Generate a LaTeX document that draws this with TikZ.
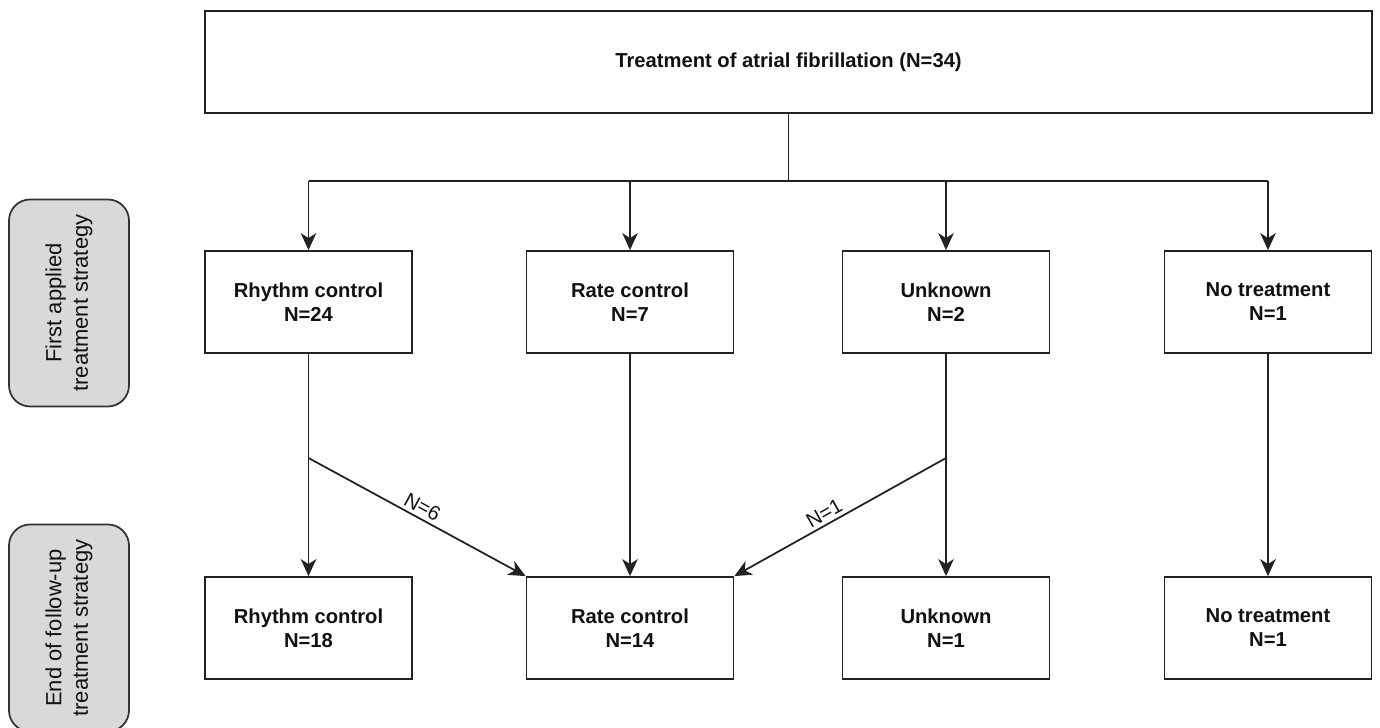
\documentclass[tikz,border=0pt]{standalone}
\usepackage{fontspec}
\setmainfont{Liberation Sans}
\usetikzlibrary{positioning,arrows.meta,calc}
\definecolor{inkText}{HTML}{111111}
\definecolor{lineStroke}{HTML}{222222}
\definecolor{sideFill}{HTML}{D9D9D9}
\definecolor{sideStroke}{HTML}{333333}

\begin{document}
\begin{tikzpicture}[
  every node/.style={text=inkText},
  box/.style={draw=lineStroke, line width=1pt, align=center, fill=white,
              minimum width=4.14cm, minimum height=2.04cm, inner sep=4pt,
              font=\fontsize{11.5}{13.6}\selectfont\bfseries},
  topbox/.style={box, minimum width=23.34cm},
  side/.style={draw=sideStroke, line width=1pt, fill=sideFill, rounded corners=12pt,
               align=center, rotate=90, minimum width=4.14cm, minimum height=2.4cm,
               font=\fontsize{12.5}{15}\selectfont},
  link/.style={line width=1pt, draw=lineStroke},
  flow/.style={link, -{Stealth[length=3.4mm,width=3.1mm,inset=1mm]}},
  lbl/.style={font=\fontsize{11.5}{13.6}\selectfont, inner sep=2pt},
]
\useasboundingbox (0,0) rectangle (27.6,14.56);

% ---------------- SIDE LABELS ----------------
\node[side] (FIRST) at (1.38,8.5) {First applied\\treatment strategy};
\node[side] (END) at (1.38,2.0) {End of follow-up\\treatment strategy};

% ---------------- NODES (absolute grid) ----------------
\node[topbox] (TOP) at (15.77,13.32) {Treatment of atrial fibrillation (N=34)};

\node[box] (RC1) at (6.17,8.52) {Rhythm control\\N=24};
\node[box] (RT1) at (12.6,8.52) {Rate control\\N=7};
\node[box] (UN1) at (18.92,8.52) {Unknown\\N=2};
\node[box] (NT1) at (25.36,8.52) {No treatment\\N=1};

\node[box] (RC2) at (6.17,2.0) {Rhythm control\\N=18};
\node[box] (RT2) at (12.6,2.0) {Rate control\\N=14};
\node[box] (UN2) at (18.92,2.0) {Unknown\\N=1};
\node[box] (NT2) at (25.36,2.0) {No treatment\\N=1};

\coordinate (split) at (15.77,10.94);
\coordinate (rcFork) at (6.17,5.4);
\coordinate (unFork) at (18.92,5.4);

% ---------------- EDGES ----------------
\draw[link] (TOP) -- (split);
\draw[link] (RC1.north |- split) -- (NT1.north |- split);
\foreach \n in {RC1,RT1,UN1,NT1}
  \draw[flow] (\n.north |- split) -- (\n);

\draw[link] (RC1) -- (rcFork);
\draw[flow] (rcFork) -- (RC2);
\draw[flow] (rcFork) -- (RT2.north west) node[lbl, midway, above, sloped] {N=6};
\draw[flow] (RT1) -- (RT2);
\draw[link] (UN1) -- (unFork);
\draw[flow] (unFork) -- (UN2);
\draw[flow] (unFork) -- (RT2.north east) node[lbl, pos=0.55, above, sloped] {N=1};
\draw[flow] (NT1) -- (NT2);
\end{tikzpicture}
\end{document}
